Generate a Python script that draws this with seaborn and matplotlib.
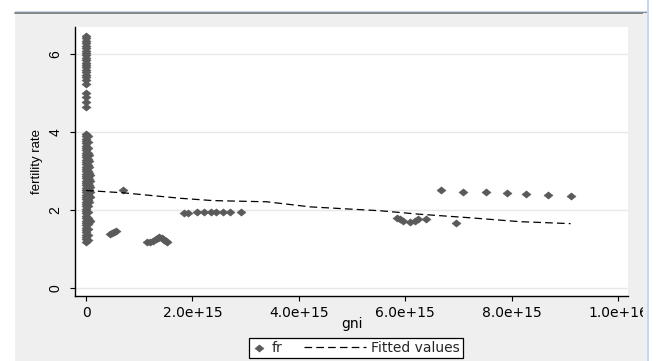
import numpy as np
import pandas as pd
import matplotlib
matplotlib.use("Agg")
import matplotlib.pyplot as plt
import seaborn as sns
from matplotlib.patches import Rectangle
from matplotlib.lines import Line2D
from matplotlib.legend_handler import HandlerLine2D

# ---------------- data (gni in units of 1e15) ----------------
col_upper_fr = [6.46, 6.40, 6.33, 6.27, 6.20, 6.14, 6.08, 6.02, 5.96, 5.90, 5.84,
                5.78, 5.72, 5.66, 5.60, 5.54, 5.46, 5.40, 5.33, 5.22, 5.00, 4.90,
                4.78, 4.65]
col_lower_fr_x00 = [3.95, 3.89, 3.83, 3.77, 3.71, 3.65, 3.59, 3.53, 3.47, 3.41, 3.35,
                    3.29, 3.23, 3.17, 3.11, 3.05, 2.99, 2.93, 2.87, 2.81, 2.75, 2.69,
                    2.63, 2.57, 2.51, 2.45, 2.39, 2.33, 2.27, 2.21, 2.15, 2.09, 2.03,
                    1.97, 1.91, 1.85, 1.79, 1.73, 1.67, 1.61, 1.55, 1.49, 1.43, 1.37,
                    1.31, 1.25, 1.19]
col_lower_fr_x03 = [3.90, 3.75, 3.60, 3.45, 3.30, 3.15, 3.00, 2.85, 2.70, 2.55, 2.40,
                    2.25, 2.10, 1.95, 1.80, 1.65, 1.50, 1.35, 1.22]
col_lower_fr_x06 = [3.40, 3.25, 3.10, 2.95, 2.80, 2.65, 2.50, 2.35, 2.20, 1.75, 1.68]
col_lower_fr_x08 = [2.90, 2.75, 2.60, 2.45, 2.34, 1.72]

mid_gni = [0.70, 0.45, 0.49, 0.53, 0.56, 1.14, 1.20, 1.26, 1.31, 1.35, 1.38, 1.42,
           1.46, 1.50, 1.53, 1.85, 1.91, 2.08, 2.22, 2.35, 2.45, 2.57, 2.71, 2.91]
mid_fr = [2.51, 1.38, 1.41, 1.44, 1.47, 1.17, 1.19, 1.21, 1.25, 1.29, 1.32, 1.27,
          1.23, 1.21, 1.17, 1.91, 1.91, 1.95, 1.95, 1.95, 1.95, 1.95, 1.95, 1.96]

right_gni = [5.84, 5.90, 5.96, 6.09, 6.18, 6.25, 6.39, 6.95,
             6.67, 7.09, 7.52, 7.92, 8.27, 8.69, 9.11]
right_fr = [1.79, 1.76, 1.73, 1.68, 1.72, 1.76, 1.76, 1.66,
            2.51, 2.47, 2.47, 2.44, 2.41, 2.38, 2.36]

fit_gni = [0.0, 0.70, 1.77, 2.39, 3.40, 4.21, 5.53, 6.28, 7.22, 8.16, 9.11]
fit_fr = [2.50, 2.44, 2.30, 2.24, 2.21, 2.08, 1.98, 1.89, 1.80, 1.70, 1.65]

x_ticks = [0, 2e15, 4e15, 6e15, 8e15, 1e16]
x_tick_labels = ["0", "2.0e+15", "4.0e+15", "6.0e+15", "8.0e+15", "1.0e+16"]
y_ticks = [0, 2, 4, 6]
y_tick_labels = ["0", "2", "4", "6"]

# ---------------- tables ----------------
pts_gni = ([0.0] * len(col_upper_fr) + [0.0] * len(col_lower_fr_x00)
           + [0.03] * len(col_lower_fr_x03) + [0.06] * len(col_lower_fr_x06)
           + [0.08] * len(col_lower_fr_x08) + mid_gni + right_gni)
pts_fr = (col_upper_fr + col_lower_fr_x00 + col_lower_fr_x03 + col_lower_fr_x06
          + col_lower_fr_x08 + mid_fr + right_fr)
df = pd.DataFrame({"gni": np.array(pts_gni) * 1e15, "fr": pts_fr})
fit = pd.DataFrame({"gni": np.array(fit_gni) * 1e15, "fr": fit_fr})

# ---------------- style ----------------
sns.set_theme(style="white")
plt.rcParams["font.family"] = ["DejaVu Sans"]
plt.rcParams["lines.scale_dashes"] = False

W, H = 659, 361
fig = plt.figure(figsize=(W / 100, H / 100), dpi=100, facecolor="white")

# outer Stata-like gray panel
fig.add_artist(Rectangle((15 / W, 0), (647 - 15) / W, (H - 13) / H,
                         transform=fig.transFigure, facecolor="#efefef",
                         edgecolor="none", zorder=-10))
fig.add_artist(Line2D([15 / W, 647 / W], [1 - 12.5 / H, 1 - 12.5 / H],
                      transform=fig.transFigure, color="#707070", lw=1.2, zorder=-9))
fig.add_artist(Line2D([15 / W, 647 / W], [1 - 11 / H, 1 - 11 / H],
                      transform=fig.transFigure, color="#c5d9ee", lw=0.8, zorder=-9))

ax = fig.add_axes([75 / W, 1 - 296 / H, (628 - 75) / W, (296 - 27) / H])
ax.set_facecolor("white")

diamond = [(-1, 0), (0, 0.8), (1, 0), (0, -0.8), (-1, 0)]
sns.scatterplot(data=df, x="gni", y="fr", ax=ax, marker=diamond, s=44,
                color="#5a5a5a", edgecolor="#5a5a5a", linewidth=0.3, label="fr",
                zorder=3)
sns.lineplot(data=fit, x="gni", y="fr", ax=ax, color="black", lw=0.9,
             label="Fitted values", zorder=4)
fit_line = ax.lines[-1]
fit_line.set_dashes([5.5, 3.0])

if ax.get_legend() is not None:
    ax.get_legend().remove()

ax.set_xlim(-0.207e15, 10.19e15)
ax.set_ylim(-0.205, 6.69)

ax.set_xticks(x_ticks)
ax.set_xticklabels(x_tick_labels, fontsize=10, color="black")
ax.set_yticks(y_ticks)
ax.set_yticklabels(y_tick_labels, fontsize=10, rotation=90, va="center",
                   family=["Liberation Sans"], color="black")

ax.grid(axis="y", color="#e8e8e8", lw=1.0, zorder=0)
ax.grid(axis="x", visible=False)
ax.set_axisbelow(True)

for s in ["top", "right"]:
    ax.spines[s].set_visible(False)
for s in ["left", "bottom"]:
    ax.spines[s].set_color("black")
    ax.spines[s].set_linewidth(1.0)

ax.tick_params(axis="x", direction="out", length=3.5, width=0.8, color="black",
               pad=4, bottom=True)
ax.tick_params(axis="y", direction="out", length=3.5, width=0.8, color="black",
               pad=5.5, left=True)

ax.set_xlabel("gni", fontsize=10, color="black")
ax.xaxis.set_label_coords(0.5, -0.077)
ax.set_ylabel("fertility rate", fontsize=9.5, color="black",
              family=["Liberation Sans"])
ax.yaxis.set_label_coords(-0.058, 0.5)


# legend: marker entry narrow, dashed line entry long (Stata style)
class LongLineHandler(HandlerLine2D):
    def __init__(self, extra, **kw):
        super().__init__(**kw)
        self.extra = extra

    def get_xdata(self, legend, xdescent, ydescent, width, height, fontsize):
        xdata, xm = super().get_xdata(legend, xdescent, ydescent, width, height, fontsize)
        return np.array([-xdescent - self.extra, width - xdescent]), xm


handles, labels = ax.get_legend_handles_labels()
hmap = {}
for h in handles:
    if isinstance(h, Line2D):
        h.set_dashes([5.5, 3.0])
        hmap[h] = LongLineHandler(extra=34)
leg = fig.legend(handles, labels, handler_map=hmap, ncol=2, loc="center",
                 bbox_to_anchor=(356 / W, 1 - 348 / H), fontsize=10,
                 frameon=True, fancybox=False, framealpha=1, edgecolor="black",
                 facecolor="white", borderpad=0.22, handlelength=1.0,
                 handletextpad=0.4, columnspacing=5.0, borderaxespad=0)
leg.get_frame().set_linewidth(0.9)

# window edge at right
fig.add_artist(Rectangle((643 / W, 0), 4 / W, (H - 13) / H, transform=fig.transFigure,
                         facecolor="#efefef", edgecolor="none", zorder=20))
fig.add_artist(Rectangle((647 / W, 0), 2 / W, 1, transform=fig.transFigure,
                         facecolor="#c5d9ee", edgecolor="none", zorder=20))
fig.add_artist(Rectangle((649 / W, 0), 10 / W, 1, transform=fig.transFigure,
                         facecolor="white", edgecolor="none", zorder=20))

fig.savefig("out.png", dpi=100, facecolor="white")
